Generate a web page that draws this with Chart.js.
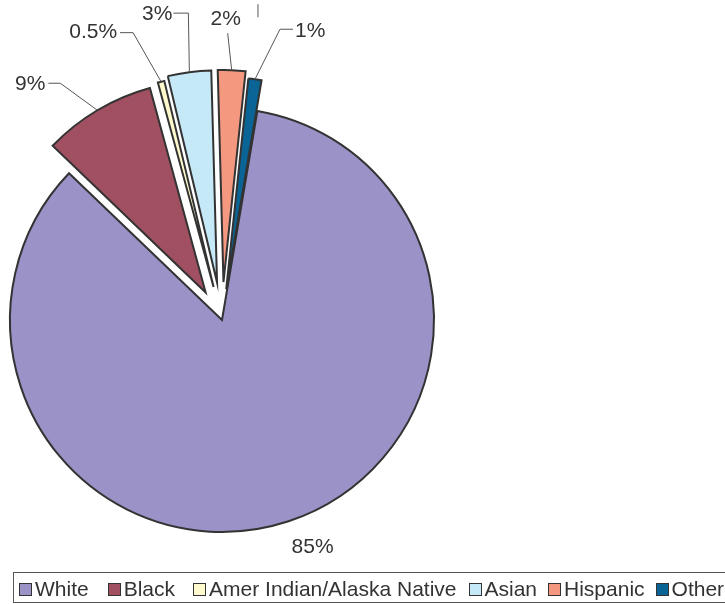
<!DOCTYPE html>
<html>
<head>
<meta charset="utf-8">
<script src="https://cdn.jsdelivr.net/npm/chart.js"></script>
<style>
    html, body { margin: 0; padding: 0; background: #fff; overflow: hidden; }
    #wrap { position: relative; width: 725px; height: 604px; }
    #legend {
        position: absolute; left: 13px; top: 572px; width: 760px; height: 31px;
        box-sizing: border-box; border: 1px solid #555; padding: 4px 0 0 5px;
        display: flex; align-items: flex-start; white-space: nowrap;
        font-family: 'Liberation Sans', Arial, sans-serif; font-size: 21px; line-height: 24px; color: #333;
    }
    .sq { width: 13px; height: 13px; box-sizing: border-box; border: 1px solid #333; margin: 6px 3px 0 0; flex: none; }
</style>
</head>
<body>
<div id="wrap">
    <canvas id="raceChart" width="725" height="604"></canvas>
    <div id="legend"></div>
</div>
<script>
// data
const categories = ['White', 'Black', 'Amer Indian/Alaska Native', 'Asian', 'Hispanic', 'Other'];
const shares = [84.5, 8.6, 0.5, 3.3, 2.1, 1.0];
const shareLabels = shares.map(v => (v < 1 ? v : Math.round(v)) + '%');

const colors = ['#9b93c8', '#a05060', '#fffacd', '#c6e9f8', '#f49880', '#0a6496'];

// pull the small slices away from the centre
const explodePlugin = {
    id: 'explode',
    afterDatasetsUpdate(chart, args, opts) {
        const meta = chart.getDatasetMeta(0);
        meta.data.forEach((arc, i) => {
            const d = opts.distances[i] || 0;
            const mid = (arc.startAngle + arc.endAngle) / 2;
            arc.x += Math.cos(mid) * d;
            arc.y += Math.sin(mid) * d;
        });
    }
};

// percentage labels with leader lines
const labelPlugin = {
    id: 'sliceLabels',
    afterDatasetsDraw(chart, args, opts) {
        const ctx = chart.ctx;
        const meta = chart.getDatasetMeta(0);
        ctx.save();
        ctx.font = opts.font;
        ctx.fillStyle = opts.color;
        ctx.strokeStyle = opts.lineColor;
        ctx.lineWidth = 1;
        ctx.textBaseline = 'middle';
        meta.data.forEach((arc, i) => {
            const lay = opts.layout[i];
            const mid = (arc.startAngle + arc.endAngle) / 2;
            const ax = arc.x + Math.cos(mid) * arc.outerRadius;
            const ay = arc.y + Math.sin(mid) * arc.outerRadius;
            let tx = ax, ty = ay;
            if (lay.elbow) {
                const ex = ax + lay.elbow[0], ey = ay + lay.elbow[1];
                tx = ex + lay.tail;
                ty = ey;
                ctx.beginPath();
                ctx.moveTo(ax, ay);
                ctx.lineTo(ex, ey);
                ctx.lineTo(tx, ty);
                ctx.stroke();
            }
            if (lay.tick) {
                ctx.beginPath();
                ctx.moveTo(ax + lay.tick[0], ay + lay.tick[1]);
                ctx.lineTo(ax + lay.tick[2], ay + lay.tick[3]);
                ctx.stroke();
            }
            ctx.textAlign = lay.align;
            ctx.fillText(shareLabels[i], tx + lay.text[0], ty + lay.text[1]);
        });
        ctx.restore();
    }
};

const ctx = document.getElementById('raceChart').getContext('2d');
const raceChart = new Chart(ctx, {
    type: 'pie',
    data: {
        labels: categories,
        datasets: [{
            data: shares,
            backgroundColor: colors,
            borderColor: '#333',
            borderWidth: 2,
            borderJoinStyle: 'miter',
            clip: false
        }]
    },
    options: {
        responsive: false,
        animation: false,
        events: [],
        rotation: 9.6,
        radius: 212,
        layout: { padding: { top: 36, bottom: 0, left: 0, right: 281 } },
        plugins: {
            legend: { display: false },
            tooltip: { enabled: false },
            explode: { distances: [0, 32, 34, 38, 38, 31] },
            sliceLabels: {
                font: "21px 'Liberation Sans', Arial, sans-serif",
                color: '#333',
                lineColor: '#555',
                layout: [
                    { elbow: null, text: [24, 26], align: 'center' },
                    { elbow: [-37, -27], tail: -12, text: [-3, 1], align: 'right' },
                    { elbow: [-28, -49], tail: -13, text: [-3, 0], align: 'right' },
                    { elbow: [-1, -59], tail: -15, text: [-1, 1], align: 'right' },
                    { elbow: [-4, -37], tail: 0, text: [-2, -14], align: 'center' },
                    { elbow: [25, -50], tail: 13, text: [2, 2], align: 'left', tick: [3, -75, 3, -62] }
                ]
            }
        }
    },
    plugins: [explodePlugin, labelPlugin]
});

// legend kept as a bordered strip along the bottom, like the original
const legendGaps = [19, 18, 12, 11, 11, 0];
const legend = document.getElementById('legend');
categories.forEach((name, i) => {
    const sq = document.createElement('span');
    sq.className = 'sq';
    sq.style.background = colors[i];
    const txt = document.createElement('span');
    txt.textContent = name;
    txt.style.marginRight = legendGaps[i] + 'px';
    legend.appendChild(sq);
    legend.appendChild(txt);
});
</script>
</body>
</html>
